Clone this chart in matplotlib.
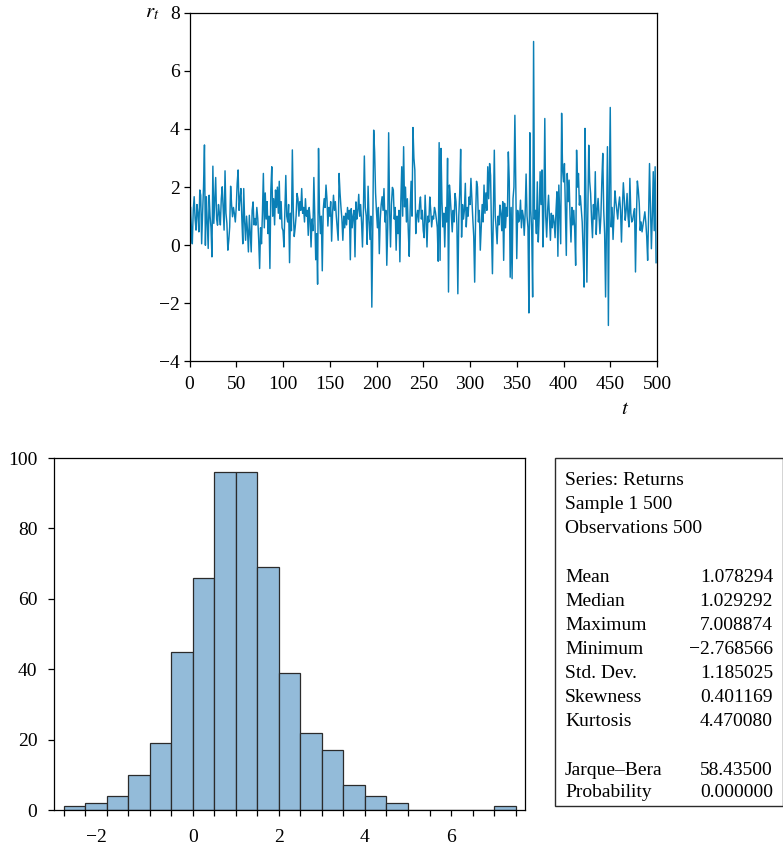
import numpy as np
import matplotlib
matplotlib.use("Agg")
import matplotlib.pyplot as plt
from matplotlib.patches import Rectangle

plt.rcParams["font.family"] = "serif"
plt.rcParams["font.serif"] = ["Liberation Serif", "DejaVu Serif"]
plt.rcParams["mathtext.fontset"] = "stix"

# returns r_t, t = 0..499
returns = [
    -0.23, 1.32, 0.6, 0.05, 1.2, 1.67, 0.9, 0.52, 1.4, 1.09,
    0.46, 1.9, 1.72, 0.05, 1.1, 2.0, 3.45, 0.0, 1.67, 0.8,
    -0.11, 1.72, 1.0, 0.6, -0.4, 2.72, 0.75, 1.5, 2.33, 0.9,
    0.69, 1.4, 1.09, 0.7, 1.6, 2.01, 1.26, 0.52, 2.56, 1.1,
    0.75, -0.17, 0.17, 0.63, 2.03, 1.4, 0.98, 1.3, 1.09, 0.8,
    1.32, 2.13, 2.59, 1.2, 1.61, 1.95, 0.9, 0.05, 1.95, 0.8,
    0.17, 1.0, 0.52, -0.23, 1.03, 0.4, -0.23, 1.2, 1.49, 0.7,
    0.92, 0.69, 1.3, 0.92, 0.2, -0.8, 0.6, 0.05, 1.1, 2.47,
    0.6, 1.8, 0.9, 1.5, 0.4, 1.0, -0.8, 1.9, 2.7, 1.0,
    1.6, 0.7, 1.9, 1.3, 2.0, 1.1, 2.2, 0.9, 1.5, 0.6,
    0.5, -0.06, 1.2, 2.4, 1.0, 0.8, 1.4, -0.6, 1.1, 0.5,
    3.28, 1.2, 0.3, 0.6, 1.0, 1.78, 1.6, 1.0, 1.5, 1.2,
    1.95, 1.1, 1.3, 0.8, 1.6, 1.0, 1.2, 0.34, 1.3, 0.9,
    -0.06, 0.9, 0.5, 2.33, 1.0, -0.5, 0.4, -1.34, 3.33, 1.2,
    0.4, 1.0, -0.88, 1.2, 1.6, 1.3, 2.07, 1.6, 0.66, 1.3,
    1.0, 1.5, 0.14, 1.1, 1.72, 1.2, 1.5, 1.0, 0.6, 0.17,
    2.47, 1.8, 1.3, 0.9, 0.17, 1.0, 0.6, 1.1, 0.7, 1.3,
    0.9, 1.2, -0.5, 1.26, 0.6, 1.0, 1.2, -0.4, 1.49, 0.9,
    1.2, 1.75, 1.0, 1.4, 0.8, -0.06, 1.2, 3.07, 1.3, 1.0,
    0.03, 2.03, 0.9, 0.2, 1.0, -2.13, 0.5, 3.96, 3.2, 1.8,
    1.15, 0.6, 1.3, -0.29, 0.9, 1.4, 1.67, 1.2, 1.95, 0.8,
    1.2, -0.69, 0.6, 3.87, 1.2, -0.06, 1.4, 1.99, 1.9, 0.9,
    1.3, -0.17, 1.0, 0.4, 1.2, -0.57, 1.5, 2.7, 1.0, 3.39,
    1.32, 2.0, 0.8, 1.6, 0.5, -0.38, 1.2, 2.2, 1.0, 4.05,
    3.0, 2.59, 0.4, 1.0, 1.2, 0.8, 1.4, 1.66, 0.9, 1.2,
    0.5, 0.26, 1.72, 0.9, -0.06, 1.0, 0.8, 1.66, 1.2, 0.63,
    1.0, 0.9, 1.3, 1.15, 0.9, 0.6, -0.55, 3.53, -0.52, 3.33,
    1.5, 0.63, 1.1, -0.06, 1.3, 0.8, 2.99, -1.61, 2.07, 1.6,
    1.0, 0.46, 1.2, 0.8, 1.78, 1.5, 0.7, -1.67, 1.0, 1.8,
    3.3, 0.28, 1.4, 0.9, 1.2, 2.13, 0.63, 1.3, 1.0, 1.66,
    1.4, 2.3, 1.6, 0.9, 0.3, -1.27, 1.0, 2.2, 2.01, 0.8,
    1.2, -0.17, 0.6, 1.4, 0.8, 2.07, 1.1, 1.8, 1.2, 2.7,
    1.6, 2.81, 2.4, 0.5, -0.98, 1.2, 3.27, 1.0, 0.6, 0.05,
    1.0, 0.7, 1.38, 1.1, 0.5, 1.5, -0.52, 1.44, 0.6, 1.3,
    1.0, 3.21, 2.2, -1.1, 1.3, -1.15, 1.6, 2.0, 4.47, 1.9,
    -0.46, 1.2, 0.8, 0.9, 1.55, 0.6, 1.2, 1.0, 0.34, 1.1,
    2.45, 1.0, 0.6, -2.33, 3.87, 1.2, 0.5, -1.78, 7.01, 0.9,
    1.2, 0.4, 2.18, 0.11, 1.0, 2.53, 1.4, 2.59, -0.06, 1.2,
    4.36, 1.0, 0.28, 1.2, 1.72, 0.9, 0.17, 1.1, 0.6, 1.03,
    0.8, 0.26, 1.2, 1.84, -0.38, 2.07, 1.0, 0.05, 4.54, 2.6,
    2.18, 2.81, 1.2, -0.35, 2.47, 1.5, 2.24, 1.0, 0.11, 1.3,
    0.7, 1.2, 0.5, -0.69, 3.27, 2.0, 2.47, 1.38, 1.7, 1.26,
    0.8, -0.2, -1.44, 4.02, 1.6, -1.27, 1.2, 3.44, 2.2, 1.78,
    0.9, 0.26, 1.4, 0.9, 2.53, 0.37, 1.2, 1.61, 1.0, 0.4,
    1.0, 2.2, 3.16, 1.2, 0.4, -1.78, 0.9, 3.39, -2.76, 2.0,
    4.74, 0.63, 1.3, 0.2, 1.0, 1.87, 1.5, 1.2, 0.9, 1.4,
    1.66, 1.2, 0.11, 1.3, 2.15, 1.6, 0.86, 1.2, 1.78, 1.0,
    0.63, 2.3, 1.1, 0.8, 0.86, 1.1, 1.26, -0.92, 1.0, 2.21,
    1.9, 1.44, 0.51, 0.8, 0.46, 0.7, 0.92, 1.15, 0.8, 0.3,
    -0.52, 1.0, 2.81, 1.4, -0.12, 1.0, 2.53, 0.5, 2.7, -0.6,
]

# histogram: bins of width 0.5 from -3 to 7.5
bin_edges = np.arange(-3.0, 7.51, 0.5)
bin_counts = [1, 2, 4, 10, 19, 45, 66, 96, 96, 69, 39, 22, 17, 7, 4, 2,
              0, 0, 0, 0, 1]

stat_labels = ["Mean", "Median", "Maximum", "Minimum", "Std. Dev.",
               "Skewness", "Kurtosis"]
stat_values = ["1.078294", "1.029292", "7.008874", "\u22122.768566",
               "1.185025", "0.401169", "4.470080"]
header_lines = ["Series: Returns", "Sample 1 500", "Observations 500"]
test_labels = ["Jarque\u2013Bera", "Probability"]
test_values = ["58.43500", "0.000000"]

W, H = 783, 846
FS = 14
line_color = "#0a7fb6"
bar_color = "#93bbd9"


def fx(px):
    return px / W


def fy(py):
    return 1 - py / H


fig = plt.figure(figsize=(W / 100, H / 100), dpi=100)

# === time series ===
ax1 = fig.add_axes([fx(189.5), fy(361.5), fx(657 - 189.5), (361.5 - 12.7) / H])
t = np.arange(len(returns))
ax1.plot(t, returns, color=line_color, linewidth=1.05)
ax1.set_xlim(0, 500)
ax1.set_ylim(-4, 8)
ax1.set_xticks(np.arange(0, 501, 50))
ax1.set_yticks(np.arange(-4, 9, 2))
ax1.tick_params(direction="out", length=4, width=0.9, labelsize=FS, pad=3)
ax1.tick_params(axis="x", pad=6.5)
for s in ax1.spines.values():
    s.set_linewidth(0.9)
fig.text(fx(152), fy(13), r"$r_t$", fontsize=FS + 1, ha="center", va="center")
fig.text(fx(625), fy(409), r"$t$", fontsize=FS + 1, ha="center", va="center")

# === histogram ===
ax2 = fig.add_axes([fx(54), fy(810), fx(525 - 54), (810 - 458) / H])
ax2.bar(bin_edges[:-1], bin_counts, width=0.5, align="edge",
        color=bar_color, edgecolor="#2b2b2b", linewidth=0.9)
ax2.set_xlim(-3.23, 7.72)
ax2.set_ylim(0, 100)
ax2.set_xticks(bin_edges)
ax2.set_xticklabels([("\u2212%d" % abs(v) if v < 0 else "%d" % v)
                     if (v == int(v) and int(v) % 2 == 0) else ""
                     for v in bin_edges])
for lab, v in zip(ax2.get_xticklabels(), bin_edges):
    if v < 0:
        lab.set_ha("right")
ax2.set_yticks(np.arange(0, 101, 20))
ax2.tick_params(direction="out", length=4, width=0.9, labelsize=FS)
ax2.tick_params(axis="x", pad=9.5)
ax2.tick_params(axis="y", pad=8)
for s in ax2.spines.values():
    s.set_linewidth(0.9)

# === statistics box ===
fig.patches.append(Rectangle((fx(555), fy(805.5)), fx(783 - 555), (805.5 - 458) / H,
                             transform=fig.transFigure, fill=False,
                             edgecolor="#2b2b2b", linewidth=1.0))
x_left, x_right = fx(565), fx(773)
for i, txt in enumerate(header_lines):
    fig.text(x_left, fy(485 + 24 * i), txt, fontsize=FS, va="baseline")
for i, (lab, val) in enumerate(zip(stat_labels, stat_values)):
    y = fy(581.5 + 24 * i)
    fig.text(x_left, y, lab, fontsize=FS, va="baseline")
    fig.text(x_right, y, val, fontsize=FS, va="baseline", ha="right")
for i, (lab, val) in enumerate(zip(test_labels, test_values)):
    y = fy(775 + 22 * i)
    fig.text(x_left, y, lab, fontsize=FS, va="baseline")
    fig.text(x_right, y, val, fontsize=FS, va="baseline", ha="right")

fig.savefig("out.png", dpi=100)
